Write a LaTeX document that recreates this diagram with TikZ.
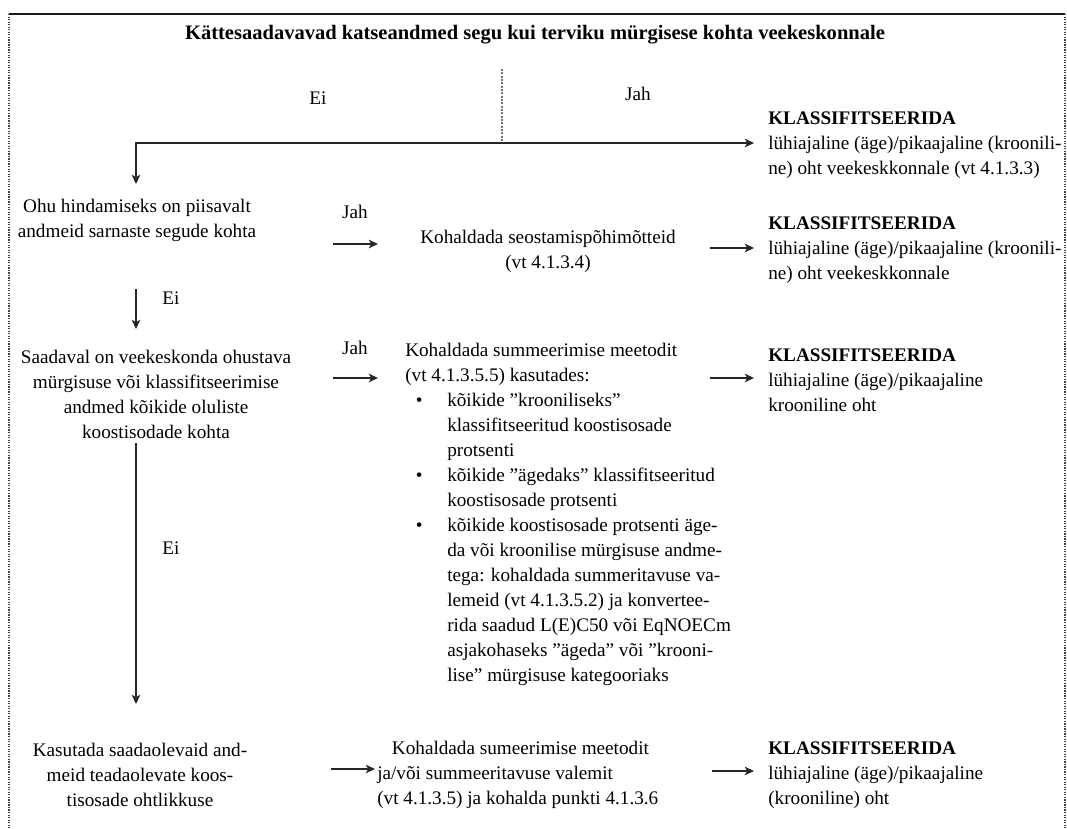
\documentclass[tikz,border=0pt]{standalone}
\usepackage{fontspec}
\setmainfont{Liberation Serif}
\usetikzlibrary{arrows.meta}
\begin{document}
\begin{tikzpicture}[x=0.75pt,y=-0.75pt,
  txt/.style={inner sep=0pt, font=\fontsize{14.4}{18.75}\selectfont, align=center},
  ltxt/.style={txt, align=left, anchor=west},
  conn/.style={line width=1.6pt, draw=black!85, -{Stealth[length=7pt,width=6.5pt,inset=2pt]}},
  dotline/.style={line width=1.5pt, draw=black!55, densely dotted},
  topline/.style={line width=1.2pt, draw=black!90},
  sideline/.style={line width=0.9pt, draw=black!75, densely dotted}
]
\useasboundingbox (0,0) rectangle (1067,828);
% frame
\coordinate (tl) at (9,14);
\coordinate (tr) at (1065,14);
\coordinate (bl) at (9,828);
\coordinate (br) at (1065,828);
\draw[topline] (tl) -- (tr);
\draw[sideline] (tl) -- (bl);
\draw[sideline] (tr) -- (br);

% title
\node[txt, font=\fontsize{15.4}{18.75}\selectfont\bfseries] (title) at (535,35)
  {Kättesaadavavad katseandmed segu kui terviku mürgisese kohta veekeskonnale};

% first split
\coordinate (split) at (502,69);
\coordinate (junc) at (502,143);
\coordinate (corner) at (136,143);
\coordinate (a1e) at (754,143);
\coordinate (d1e) at (136,184);
\draw[dotline] (split) -- (junc);
\draw[conn, {Stealth[length=7pt,width=6.5pt,inset=2pt]}-{Stealth[length=7pt,width=6.5pt,inset=2pt]}] (d1e) -- (corner) -- (a1e);
\node[txt] (ei1) at (318,98) {Ei};
\node[txt] (jah1) at (638,94) {Jah};

\node[ltxt] (kl1) at (768,145) {\textbf{KLASSIFITSEERIDA}\\lühiajaline (äge)/pikaajaline (kroonili-\\ne) oht veekeskkonnale (vt 4.1.3.3)};

% row 2
\node[txt] (ohu) at (137,220) {Ohu hindamiseks on piisavalt\\andmeid sarnaste segude kohta};
\node[txt] (jah2) at (355,212) {Jah};
\coordinate (a2s) at (333,244);
\coordinate (a2e) at (378,244);
\draw[conn] (a2s) -- (a2e);
\node[txt] (koh1) at (548,251) {Kohaldada seostamispõhimõtteid\\(vt 4.1.3.4)};
\coordinate (a3s) at (710,248);
\coordinate (a3e) at (754,248);
\draw[conn] (a3s) -- (a3e);
\node[ltxt] (kl2) at (768,250) {\textbf{KLASSIFITSEERIDA}\\lühiajaline (äge)/pikaajaline (kroonili-\\ne) oht veekeskkonnale};

% down to row 3
\coordinate (d2s) at (136,289);
\coordinate (d2e) at (136,329);
\draw[conn] (d2s) -- (d2e);
\node[txt] (ei2) at (171,298) {Ei};

% row 3
\node[txt] (saad) at (156,394) {Saadaval on veekeskonda ohustava\\mürgisuse või klassifitseerimise\\andmed kõikide oluliste\\koostisodade kohta};
\node[txt] (jah3) at (355,348) {Jah};
\coordinate (a4s) at (333,378);
\coordinate (a4e) at (378,378);
\draw[conn] (a4s) -- (a4e);
\node[ltxt] (summ) at (405,514) {Kohaldada summeerimise meetodit\\
(vt 4.1.3.5.5) kasutades:\\
\hspace*{8pt}\makebox[23.5pt][l]{\textbullet}kõikide ”krooniliseks”\\
\hspace*{31.5pt}klassifitseeritud koostisosade\\
\hspace*{31.5pt}protsenti\\
\hspace*{8pt}\makebox[23.5pt][l]{\textbullet}kõikide ”ägedaks” klassifitseeritud\\
\hspace*{31.5pt}koostisosade protsenti\\
\hspace*{8pt}\makebox[23.5pt][l]{\textbullet}kõikide koostisosade protsenti äge-\\
\hspace*{31.5pt}da või kroonilise mürgisuse andme-\\
\hspace*{31.5pt}tega: kohaldada summeritavuse va-\\
\hspace*{31.5pt}lemeid (vt 4.1.3.5.2) ja konvertee-\\
\hspace*{31.5pt}rida saadud L(E)C50 või EqNOECm\\
\hspace*{31.5pt}asjakohaseks ”ägeda” või ”krooni-\\
\hspace*{31.5pt}lise” mürgisuse kategooriaks};
\coordinate (a5s) at (710,378);
\coordinate (a5e) at (754,378);
\draw[conn] (a5s) -- (a5e);
\node[ltxt] (kl3) at (768,380) {\textbf{KLASSIFITSEERIDA}\\lühiajaline (äge)/pikaajaline\\krooniline oht};

% down to row 4
\coordinate (d3s) at (136,443);
\coordinate (d3e) at (136,704);
\draw[conn] (d3s) -- (d3e);
\node[txt] (ei3) at (171,548) {Ei};

% row 4
\node[txt] (kas) at (140,775) {Kasutada saadaolevaid and-\\meid teadaolevate koos-\\tisosade ohtlikkuse};
\coordinate (a6s) at (331,769);
\coordinate (a6e) at (375,769);
\draw[conn] (a6s) -- (a6e);
\node[ltxt] (koh2) at (377,775) {\hspace*{11pt}Kohaldada sumeerimise meetodit\\ja/või summeeritavuse valemit\\(vt 4.1.3.5) ja kohalda punkti 4.1.3.6};
\coordinate (a7s) at (712,771);
\coordinate (a7e) at (754,771);
\draw[conn] (a7s) -- (a7e);
\node[ltxt] (kl4) at (768,775) {\textbf{KLASSIFITSEERIDA}\\lühiajaline (äge)/pikaajaline\\(krooniline) oht};
\end{tikzpicture}
\end{document}
